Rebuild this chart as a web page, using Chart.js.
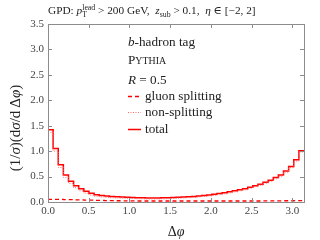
<!DOCTYPE html>
<html>
<head>
<meta charset="utf-8">
<script src="https://cdn.jsdelivr.net/npm/chart.js@4.4.1/dist/chart.umd.min.js"></script>
<style>
html, body { margin: 0; padding: 0; background: #fff; }
#wrap { width: 320px; height: 240px; }
</style>
</head>
<body>
<div id="wrap"><canvas id="phiChart" width="320" height="240"></canvas></div>
<script>
// histogram of delta phi, 50 bins from 0 to pi
const phiMax = Math.PI;

const totalValues = [
    1.42, 1.05, 0.73, 0.53, 0.41, 0.32, 0.26, 0.21, 0.17, 0.145,
    0.13, 0.12, 0.11, 0.105, 0.10, 0.095, 0.09, 0.085, 0.082, 0.08,
    0.08, 0.08, 0.082, 0.085, 0.09, 0.095, 0.10, 0.105, 0.11, 0.12,
    0.13, 0.14, 0.15, 0.165, 0.18, 0.20, 0.22, 0.24, 0.26, 0.29,
    0.32, 0.35, 0.39, 0.43, 0.48, 0.53, 0.61, 0.70, 0.83, 1.01
];

const gluonValues = [
    0.05, 0.05, 0.05, 0.045, 0.045, 0.04, 0.04, 0.035, 0.035, 0.03,
    0.03, 0.028, 0.026, 0.025, 0.024, 0.022, 0.021, 0.02, 0.02, 0.02,
    0.02, 0.02, 0.02, 0.02, 0.02, 0.02, 0.02, 0.02, 0.02, 0.02,
    0.02, 0.02, 0.02, 0.02, 0.02, 0.02, 0.02, 0.02, 0.02, 0.02,
    0.02, 0.02, 0.022, 0.022, 0.024, 0.024, 0.025, 0.025, 0.026, 0.026
];

const nonSplitValues = [
    1.37, 1.00, 0.68, 0.485, 0.365, 0.28, 0.22, 0.175, 0.135, 0.115,
    0.10, 0.092, 0.084, 0.08, 0.076, 0.073, 0.069, 0.065, 0.062, 0.06,
    0.06, 0.06, 0.062, 0.065, 0.07, 0.075, 0.08, 0.085, 0.09, 0.10,
    0.11, 0.12, 0.13, 0.145, 0.16, 0.18, 0.20, 0.22, 0.24, 0.27,
    0.30, 0.33, 0.368, 0.408, 0.456, 0.506, 0.585, 0.675, 0.804, 0.984
];

const xTicks = [0, 0.5, 1.0, 1.5, 2.0, 2.5, 3.0];
const yTicks = [0, 0.5, 1.0, 1.5, 2.0, 2.5, 3.0, 3.5];

const serif = "'Liberation Serif', 'DejaVu Serif', serif";
const textColor = "#222";
const frameColor = "#8c8c8c";

// step points on the bin edges
function toSteps(values) {
    const w = phiMax / values.length;
    const pts = values.map((v, i) => ({ x: i * w, y: v }));
    pts.push({ x: phiMax, y: values[values.length - 1] });
    return pts;
}

// a row of text pieces (normal / italic / sub / sup)
function richWidth(ctx, parts) {
    let w = 0;
    parts.forEach(p => {
        ctx.font = (p.italic ? "italic " : "") + p.size + "px " + serif;
        let pw = ctx.measureText(p.t).width;
        if (p.sup) {
            ctx.font = p.supSize + "px " + serif;
            pw = Math.max(pw, ctx.measureText(p.sup).width);
        }
        w += pw;
    });
    return w;
}

function drawRich(ctx, x, y, parts) {
    let cx = x;
    ctx.textBaseline = "alphabetic";
    ctx.textAlign = "left";
    parts.forEach(p => {
        ctx.font = (p.italic ? "italic " : "") + p.size + "px " + serif;
        ctx.fillText(p.t, cx, y + (p.dy || 0));
        let pw = ctx.measureText(p.t).width;
        if (p.sup) {
            ctx.font = p.supSize + "px " + serif;
            ctx.fillText(p.sup, cx, y + p.supDy);
            pw = Math.max(pw, ctx.measureText(p.sup).width);
        }
        cx += pw;
    });
}

const decorPlugin = {
    id: "decor",
    afterDraw(chart) {
        const ctx = chart.ctx;
        const a = chart.chartArea;
        const xs = chart.scales.x;
        const ys = chart.scales.y;

        ctx.save();

        // frame
        ctx.strokeStyle = frameColor;
        ctx.lineWidth = 1;
        ctx.strokeRect(Math.round(a.left) + 0.5, Math.round(a.top) + 0.5,
            Math.round(a.right - a.left), Math.round(a.bottom - a.top));

        // inward ticks on all four sides
        ctx.beginPath();
        xTicks.forEach(v => {
            const px = Math.round(xs.getPixelForValue(v)) + 0.5;
            ctx.moveTo(px, a.bottom);
            ctx.lineTo(px, a.bottom - 4);
            ctx.moveTo(px, a.top);
            ctx.lineTo(px, a.top + 4);
        });
        yTicks.forEach(v => {
            const py = Math.round(ys.getPixelForValue(v)) + 0.5;
            ctx.moveTo(a.left, py);
            ctx.lineTo(a.left + 4, py);
            ctx.moveTo(a.right, py);
            ctx.lineTo(a.right - 4, py);
        });
        ctx.stroke();

        ctx.fillStyle = textColor;

        // title
        const t = 11.3;
        const s = 7.8;
        drawRich(ctx, 48, 14, [
            { t: "GPD: ", size: t },
            { t: "p", size: t, italic: true },
            { t: "T", size: s, dy: 2.5, sup: "lead", supSize: s, supDy: -4.5 },
            { t: " > 200 GeV,  ", size: t },
            { t: "z", size: t, italic: true },
            { t: "sub", size: s, dy: 2.5 },
            { t: " > 0.1,  ", size: t },
            { t: "η", size: t, italic: true },
            { t: " ∈ [−2, 2]", size: t }
        ]);

        // annotation block
        const L = 13.2;
        drawRich(ctx, 128, 46, [
            { t: "b", size: L, italic: true },
            { t: "-hadron tag", size: L }
        ]);
        drawRich(ctx, 128, 64, [
            { t: "P", size: L },
            { t: "YTHIA", size: L * 0.75 }
        ]);
        drawRich(ctx, 128, 84, [
            { t: "R", size: L, italic: true },
            { t: " = 0.5", size: L }
        ]);

        // legend
        const rows = [
            { label: "gluon splitting", y: 96, ds: 0 },
            { label: "non-splitting", y: 112, ds: 1 },
            { label: "total", y: 129, ds: 2 }
        ];
        rows.forEach(r => {
            const d = chart.data.datasets[r.ds];
            ctx.strokeStyle = d.borderColor;
            ctx.lineWidth = d.borderWidth;
            ctx.setLineDash(d.borderDash || []);
            ctx.beginPath();
            ctx.moveTo(128, r.y + 0.5);
            ctx.lineTo(141, r.y + 0.5);
            ctx.stroke();
            ctx.setLineDash([]);
            ctx.fillStyle = textColor;
            drawRich(ctx, 145, r.y + 4, [{ t: r.label, size: L }]);
        });

        // x axis title
        const xt = [
            { t: "Δ", size: 14 },
            { t: "φ", size: 14, italic: true }
        ];
        drawRich(ctx, 176 - richWidth(ctx, xt) / 2, 236, xt);

        // y axis title
        const Y = 15;
        const yt = [
            { t: "(1/", size: Y },
            { t: "σ", size: Y, italic: true },
            { t: ")(d", size: Y },
            { t: "σ", size: Y, italic: true },
            { t: "/d\u2009Δ", size: Y },
            { t: "φ", size: Y, italic: true },
            { t: ")", size: Y }
        ];
        ctx.translate(20, 128);
        ctx.rotate(-Math.PI / 2);
        drawRich(ctx, -richWidth(ctx, yt) / 2, 0, yt);

        ctx.restore();
    }
};

const ctx = document.getElementById("phiChart").getContext("2d");

const phiChart = new Chart(ctx, {

    type: "line",

    data: {
        datasets: [
            {
                label: "gluon splitting",
                data: toSteps(gluonValues),
                borderColor: "#ff0000",
                borderWidth: 1.3,
                borderDash: [4, 3],
                stepped: "before",
                pointRadius: 0,
                fill: false
            },
            {
                label: "non-splitting",
                data: toSteps(nonSplitValues),
                borderColor: "#ff6a6a",
                borderWidth: 1,
                borderDash: [1, 1.5],
                stepped: "before",
                pointRadius: 0,
                fill: false
            },
            {
                label: "total",
                data: toSteps(totalValues),
                borderColor: "#ff0000",
                borderWidth: 1.5,
                stepped: "before",
                pointRadius: 0,
                fill: false
            }
        ]
    },

    options: {
        responsive: false,
        animation: false,
        devicePixelRatio: 1,
        layout: {
            padding: { left: 0, right: 16, top: 24, bottom: 0 }
        },
        plugins: {
            legend: { display: false },
            tooltip: { enabled: false }
        },
        scales: {
            x: {
                type: "linear",
                min: 0,
                max: phiMax,
                grid: { display: false, drawTicks: false },
                border: { display: false },
                ticks: {
                    stepSize: 0.5,
                    includeBounds: false,
                    maxRotation: 0,
                    padding: 3,
                    color: "#444",
                    font: { family: serif, size: 11 },
                    callback: v => v.toFixed(1)
                },
                afterFit: s => { s.height = 38; }
            },
            y: {
                min: 0,
                max: 3.5,
                grid: { display: false, drawTicks: false },
                border: { display: false },
                ticks: {
                    stepSize: 0.5,
                    padding: 4,
                    color: "#444",
                    font: { family: serif, size: 11 },
                    callback: v => v.toFixed(1)
                },
                afterFit: s => { s.width = 48; }
            }
        }
    },

    plugins: [decorPlugin]

});
</script>
</body>
</html>
